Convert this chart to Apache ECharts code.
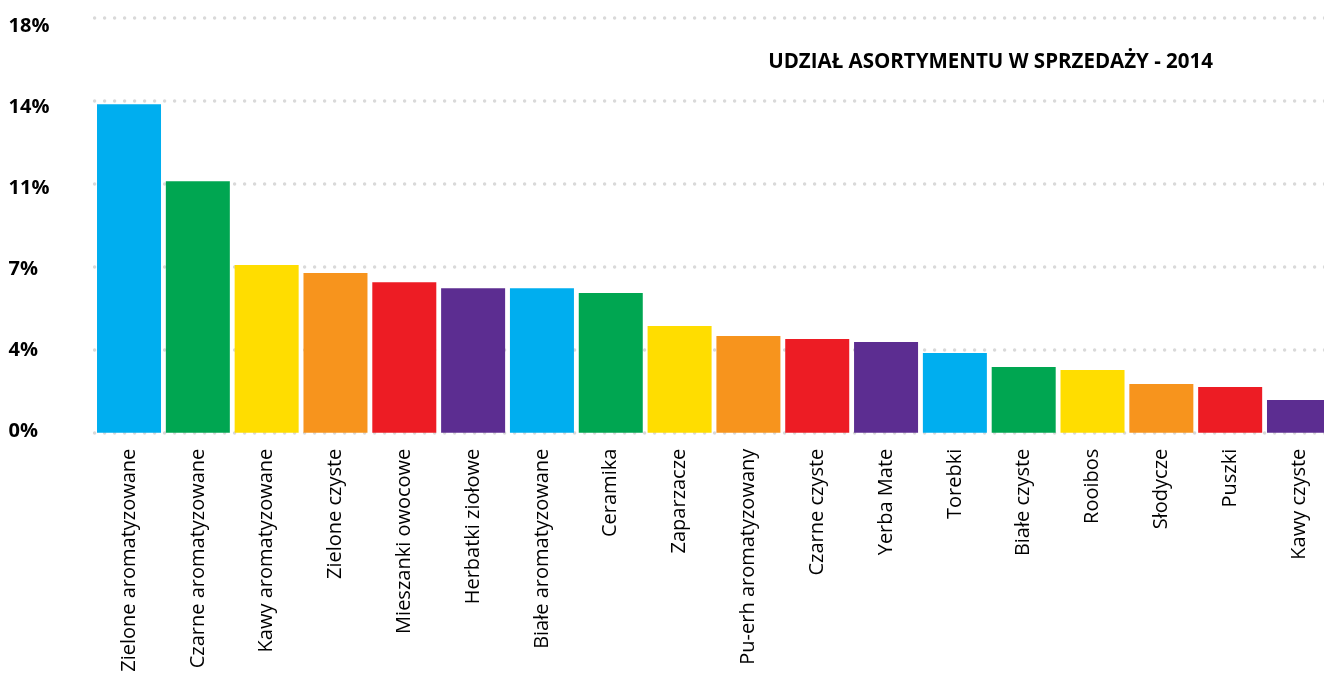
<!DOCTYPE html>
<html>
<head>
<meta charset="utf-8">
<script src="https://cdn.jsdelivr.net/npm/echarts@6/dist/echarts.min.js"></script>
<style>
html,body{margin:0;padding:0;background:#fff;}
#chart{width:1324px;height:680px;}
</style>
</head>
<body>
<div id="chart"></div>
<script>
const categories = ["Zielone aromatyzowane","Czarne aromatyzowane","Kawy aromatyzowane","Zielone czyste","Mieszanki owocowe","Herbatki ziołowe","Białe aromatyzowane","Ceramika","Zaparzacze","Pu-erh aromatyzowany","Czarne czyste","Yerba Mate","Torebki","Białe czyste","Rooibos","Słodycze","Puszki","Kawy czyste"];
const values = [14.25,10.91,7.27,6.93,6.53,6.27,6.27,6.06,4.63,4.19,4.06,3.93,3.46,2.85,2.72,2.11,1.98,1.42];
const palette = ["#00AEEF","#00A651","#FFDD00","#F7941D","#ED1C24","#5C2D91"];
const yMin = 0, yMax = 18, yStep = 3.6;
const title = "UDZIAŁ ASORTYMENTU W SPRZEDAŻY - 2014";

const chart = echarts.init(document.getElementById('chart'));
chart.setOption({
  animation: false,
  backgroundColor: '#fff',
  title: {
    text: title, right: 106, top: 47,
    textStyle: {fontFamily: 'Open Sans', fontWeight: 'bold', fontSize: 20.5, color: '#000'}
  },
  grid: [
    {left: 94.6, width: 1238.8, top: 17.7, height: 415, outerBoundsMode: 'none', containLabel: false},
    {left: 94.6, width: 1238.8, top: 25.8, height: 405, outerBoundsMode: 'none', containLabel: false}
  ],
  xAxis: [
    {
      type: 'category', data: categories, gridIndex: 0,
      axisLine: {show: false}, axisTick: {show: false},
      axisLabel: {rotate: 90, interval: 0, margin: 16, fontFamily: 'Open Sans', fontSize: 20, color: '#000'}
    },
    {type: 'category', data: categories, gridIndex: 1, show: false}
  ],
  yAxis: [
    {
      type: 'value', gridIndex: 0, min: yMin, max: yMax, interval: yStep,
      axisLine: {show: false}, axisTick: {show: false}, axisLabel: {show: false},
      splitLine: {show: true, lineStyle: {color: '#d9d9d9', width: 3.5, type: [0, 10], cap: 'round'}}
    },
    {
      type: 'value', gridIndex: 1, min: yMin, max: yMax, interval: yStep,
      axisLine: {show: false}, axisTick: {show: false}, splitLine: {show: false},
      axisLabel: {
        align: 'left', margin: 86, fontFamily: 'Open Sans', fontWeight: 'bold', fontSize: 20, color: '#000',
        formatter: v => Math.round(v) + '%'
      }
    }
  ],
  series: [
    {
      type: 'bar', xAxisIndex: 0, yAxisIndex: 0, barCategoryGap: '7%',
      data: values.map((v, i) => ({value: v, itemStyle: {color: palette[i % palette.length]}}))
    }
  ]
});
</script>
</body>
</html>
